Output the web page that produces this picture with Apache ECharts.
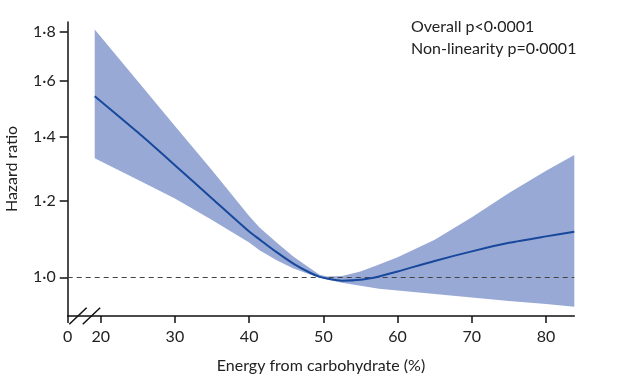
<!DOCTYPE html>
<html>
<head>
<meta charset="utf-8">
<script src="https://cdn.jsdelivr.net/npm/echarts@6/dist/echarts.min.js"></script>
<style>html,body{margin:0;padding:0;background:#fff;}#c{width:640px;height:384px;}</style>
</head>
<body>
<div id="c"></div>
<script>
// Energy from carbohydrate (%)
var carbPct = [19.2, 25, 30, 35, 40, 41.4, 43.7, 45.9, 48.2, 49.5, 50.5, 52.5, 55, 57.5, 60, 65, 70, 75, 80, 83.8];
// Hazard ratio (central estimate)
var hazard  = [1.543, 1.415, 1.308, 1.208, 1.116, 1.095, 1.062, 1.034, 1.011, 1.001, 0.997, 0.992, 0.994, 1.002, 1.014, 1.040, 1.064, 1.086, 1.103, 1.115];
// 95% CI bounds
var upperCI = [1.810, 1.599, 1.437, 1.292, 1.158, 1.127, 1.087, 1.052, 1.022, 1.006, 1.002, 1.003, 1.014, 1.031, 1.049, 1.094, 1.155, 1.224, 1.291, 1.340];
var lowerCI = [1.330, 1.263, 1.208, 1.147, 1.087, 1.067, 1.042, 1.022, 1.007, 0.999, 0.995, 0.987, 0.980, 0.973, 0.969, 0.961, 0.953, 0.945, 0.938, 0.932];
var xTicks = [20, 30, 40, 50, 60, 70, 80];
var yTicks = [1.0, 1.2, 1.4, 1.6, 1.8];
var xMin = 15.56, xMax = 83.8;
var yMin = 0.9115, yMax = 1.843;
var refHR = 1.0;
var breakAt = [16.94, 18.76];
var annotation = ['Overall p<0·0001', 'Non-linearity p=0·0001'];

var FONT = 'Lato';
var chart = echarts.init(document.getElementById('c'));
var xAll = [xMin].concat(xTicks);

var option = {
  animation: false,
  grid: {left: 67.7, right: 65.7, top: 22, bottom: 68, containLabel: false, outerBoundsMode: 'none'},
  xAxis: {
    type: 'value', min: xMin, max: xMax,
    name: 'Energy from carbohydrate (%)', nameLocation: 'middle', nameGap: 42,
    nameTextStyle: {fontFamily: FONT, fontSize: 16, color: '#222'},
    splitLine: {show: false},
    axisLine: {lineStyle: {color: '#111', width: 1.5}},
    axisTick: {show: true, length: 7, lineStyle: {color: '#111', width: 1.5}, customValues: xAll},
    axisLabel: {customValues: xAll, margin: 13, fontFamily: FONT, fontSize: 16, color: '#222',
      formatter: function (v) { return v < 19 ? '0' : String(Math.round(v)); }}
  },
  yAxis: {
    type: 'log', logBase: 10, min: yMin, max: yMax,
    name: 'Hazard ratio', nameLocation: 'middle', nameGap: 48, nameRotate: 90,
    nameTextStyle: {fontFamily: FONT, fontSize: 16, color: '#222'},
    splitLine: {show: false},
    axisLine: {show: true, lineStyle: {color: '#111', width: 1.5}},
    axisTick: {show: true, length: 8, lineStyle: {color: '#111', width: 1.5}, customValues: yTicks},
    axisLabel: {customValues: yTicks, margin: 12, fontFamily: FONT, fontSize: 16, color: '#222',
      formatter: function (v) { return v.toFixed(1).replace('.', '·'); }}
  },
  series: [
    {
      type: 'custom',
      z: 1,
      data: carbPct.map(function (x, i) { return [x, lowerCI[i], upperCI[i]]; }),
      encode: {x: 0, y: [1, 2]},
      renderItem: function (params, api) {
        if (params.dataIndex !== 0) return null;
        var pts = [];
        for (var i = 0; i < carbPct.length; i++) pts.push(api.coord([carbPct[i], upperCI[i]]));
        for (var j = carbPct.length - 1; j >= 0; j--) pts.push(api.coord([carbPct[j], lowerCI[j]]));
        return {type: 'polygon', shape: {points: pts}, style: {fill: '#98a9d5', stroke: null}};
      },
      silent: true
    },
    {
      type: 'line',
      z: 3,
      data: carbPct.map(function (x, i) { return [x, hazard[i]]; }),
      smooth: 0.25,
      showSymbol: false,
      lineStyle: {color: '#17489c', width: 2},
      markLine: {
        silent: true, symbol: 'none', z: 2,
        label: {show: false},
        lineStyle: {color: '#444', type: [5, 4], width: 1.2},
        data: [[{coord: [xMin, refHR]}, {coord: [xMax, refHR]}]]
      }
    }
  ]
};
chart.setOption(option);

// axis break marks, placed through the axis scale
var hw = 8.7, hh = 8.3;
var g = [{type: 'text', left: 411, top: 16,
  style: {text: annotation.join('\n'), fontFamily: FONT, fontSize: 16, lineHeight: 21.6, fill: '#222'}}];
breakAt.forEach(function (v) {
  var p = chart.convertToPixel({gridIndex: 0}, [v, yMin]);
  g.push({type: 'line', shape: {x1: p[0] - hw, y1: p[1] + hh, x2: p[0] + hw, y2: p[1] - hh},
    style: {stroke: '#111', lineWidth: 1.5}});
});
chart.setOption({graphic: g});
</script>
</body>
</html>
